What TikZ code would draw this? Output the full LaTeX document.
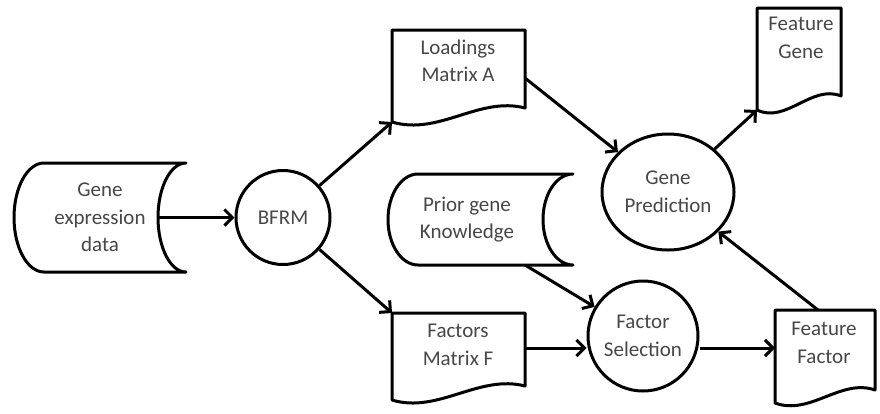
\documentclass[tikz,border=0pt]{standalone}
\usepackage{fontspec}
\setmainfont{Carlito}
\usetikzlibrary{arrows.meta,shapes.geometric}

\tikzset{
  outline/.style={draw=black, line width=3pt, line join=round, fill=white},
  label/.style={text=black!72, font=\fontsize{21}{27.5}\selectfont, align=center, inner sep=0pt},
  process/.style={outline, circle, label, inner sep=0pt},
  flow/.style={draw=black, line width=3pt,
    -{Straight Barb[length=8pt,width=16pt]}},
}

\begin{document}
\begin{tikzpicture}[x=1pt, y=-1pt]
  \useasboundingbox (0,0) rectangle (880,413);

  % stored data: gene expression data
  \draw[outline] (44,163) -- (186,163)
    .. controls (170.5,163) and (158,187.4) .. (158,217.5)
    .. controls (158,247.6) and (170.5,272) .. (186,272)
    -- (44,272)
    .. controls (27.4,272) and (14,247.6) .. (14,217.5)
    .. controls (14,187.4) and (27.4,163) .. cycle;
  \node[label] (gene) at (100,217.5) {Gene\\expression\\data};
  \coordinate (geneR) at (158,217.5);

  % stored data: prior knowledge
  \draw[outline] (418,174) -- (573,174)
    .. controls (556.4,174) and (543,194.4) .. (543,219.5)
    .. controls (543,244.6) and (556.4,265) .. (573,265)
    -- (418,265)
    .. controls (401.4,265) and (388,244.6) .. (388,219.5)
    .. controls (388,194.4) and (401.4,174) .. cycle;
  \node[label] (prior) at (467,219.5) {Prior gene\\Knowledge};
  \coordinate (priorB) at (525,265);

  % documents
  \draw[outline] (392,30) -- (525,30) -- (525,108)
    .. controls (479,96) and (439,136) .. (392,122) -- cycle;
  \node[label] (load) at (458,61) {Loadings\\Matrix A};
  \coordinate (loadBL) at (392,122);
  \coordinate (loadR) at (525,78);

  \draw[outline] (392,313) -- (525,313) -- (525,386)
    .. controls (479,374) and (438,414) .. (392,400) -- cycle;
  \node[label] (fact) at (458,345) {Factors\\Matrix F};
  \coordinate (factTL) at (392,313);
  \coordinate (factR) at (525,348);

  \draw[outline] (757,8) -- (841,8) -- (841,96)
    .. controls (812,84) and (786,124) .. (757,110) -- cycle;
  \node[label] (fgene) at (801,38) {Feature\\Gene};
  \coordinate (fgBL) at (757,110);

  \draw[outline] (775,310) -- (875,310) -- (875,390)
    .. controls (841,378) and (810,416) .. (775,403) -- cycle;
  \node[label] (ffact) at (824,343) {Feature\\Factor};
  \coordinate (ffTop) at (818,310);
  \coordinate (ffL) at (775,348);

  % processes
  \node[process, minimum size=94pt] (bfrm) at (283,217.5) {BFRM};
  \node[outline, ellipse, label, minimum width=132pt, minimum height=116pt]
    (pred) at (668,192) {Gene\\Prediction};
  \node[process, minimum size=110pt] (fsel) at (643,336) {Factor\\Selection};

  % connectors
  \draw[flow] (geneR) -- (geneR -| bfrm.west);
  \draw[flow] (bfrm) -- (loadBL);
  \draw[flow] (bfrm) -- (factTL);
  \draw[flow] (loadR) -- (pred);
  \draw[flow] (pred) -- (fgBL);
  \draw[flow] (ffTop) -- (pred);
  \draw[flow] (priorB) -- (fsel);
  \draw[flow] (factR) -- (factR -| fsel.west);
  \draw[flow] (fsel.east |- ffL) -- (ffL);
\end{tikzpicture}
\end{document}
